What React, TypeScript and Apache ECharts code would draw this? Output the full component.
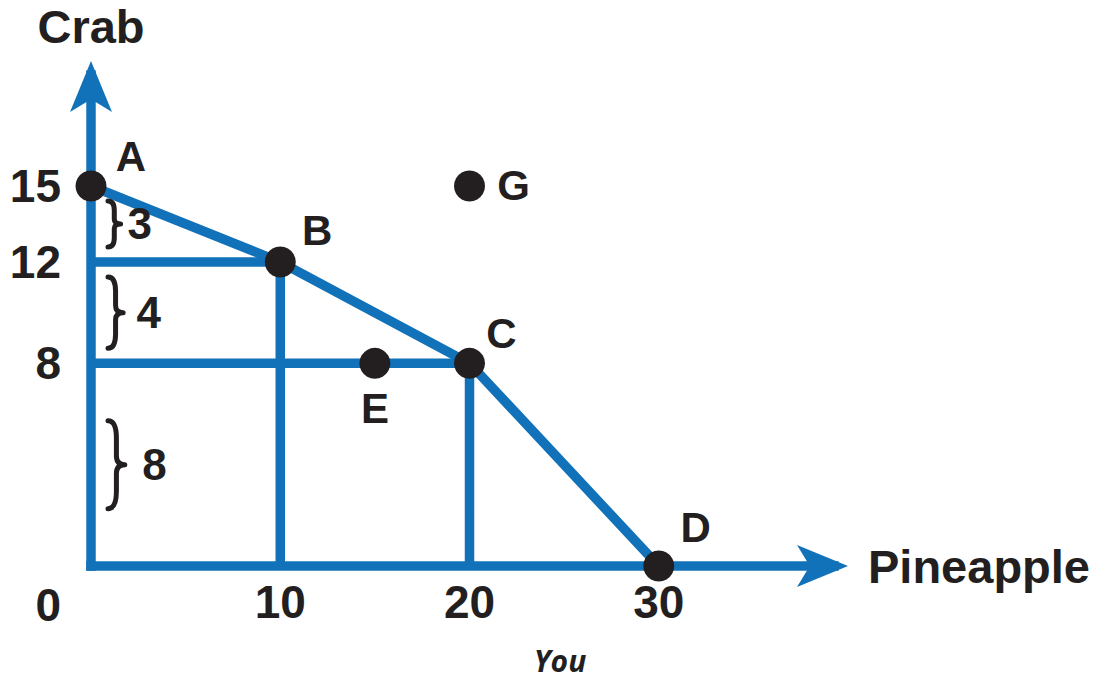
import React, { useEffect, useRef } from "react";
import * as echarts from "echarts";

const ppfX = [0, 10, 20, 30];
const ppfY = [15, 12, 8, 0];
const guideBX = [0, 10, 10];
const guideBY = [12, 12, 0];
const guideCX = [0, 20, 20];
const guideCY = [8, 8, 0];
const pointNames = ["A", "B", "C", "D", "E", "G"];
const pointX = [0, 10, 20, 30, 15, 20];
const pointY = [15, 12, 8, 0, 8, 15];
const labelOffsets = [[40, -29], [37, -31], [32, -30], [37, -39], [0, 45], [44, 0]];
const xTickValues = [10, 20, 30];
const yTickValues = [8, 12, 15];
const braceTop = [15, 12, 8];
const braceBottom = [12, 8, 0];
const braceLabels = ["3", "4", "8"];
const xAxisName = "Pineapple";
const yAxisName = "Crab";
const originLabel = "0";
const subtitle = "You";

const BLUE = "#1272b9";
const TEXT = "#231f20";
const FONT = "'Liberation Sans', Arial, sans-serif";

export default function App() {
  const ref = useRef<HTMLDivElement>(null);
  useEffect(() => {
    if (!ref.current) return;
    const chart = echarts.init(ref.current, null, { renderer: "svg" });
    const axisLine = {
      show: true,
      onZero: false,
      symbol: ["none", "arrow"],
      symbolSize: [31.5, 51],
      symbolOffset: [0, 14],
      lineStyle: { color: BLUE, width: 9.5, cap: "square" },
    };
    const option: any = {
      animation: false,
      backgroundColor: "#ffffff",
      grid: { left: 91, right: 265, top: 75, bottom: 115, outerBoundsMode: "none", containLabel: false },
      xAxis: {
        type: "value",
        min: 0,
        max: 39.26,
        splitLine: { show: false },
        axisTick: { show: false },
        axisLine,
        axisLabel: {
          customValues: xTickValues,
          formatter: (v: number) => String(v),
          fontSize: 46,
          fontWeight: "bold",
          color: TEXT,
          fontFamily: FONT,
          margin: 13,
          verticalAlign: "top",
        },
        name: xAxisName,
        nameLocation: "end",
        nameGap: 34,
        nameTextStyle: { fontSize: 47, fontWeight: "bold", color: TEXT, fontFamily: FONT, align: "left", verticalAlign: "middle" },
      },
      yAxis: {
        type: "value",
        min: 0,
        max: 19.38,
        splitLine: { show: false },
        axisTick: { show: false },
        axisLine,
        axisLabel: {
          customValues: yTickValues,
          formatter: (v: number) => String(v),
          fontSize: 46,
          fontWeight: "bold",
          color: TEXT,
          fontFamily: FONT,
          margin: 30,
        },
        name: yAxisName,
        nameLocation: "end",
        nameGap: 49,
        nameTextStyle: { fontSize: 47, fontWeight: "bold", color: TEXT, fontFamily: FONT, align: "center", verticalAlign: "middle" },
      },
      graphic: [
        { type: "text", x: 61, y: 605, style: { text: originLabel, align: "right", verticalAlign: "middle", fontSize: 46, fontWeight: "bold", fill: TEXT, fontFamily: FONT } },
        { type: "text", x: 560, y: 660, style: { text: subtitle, align: "center", verticalAlign: "middle", fontSize: 30, lineHeight: 30, fontWeight: "bold", fontStyle: "italic", fill: TEXT, fontFamily: "'Open Sans', 'Liberation Sans', sans-serif" } },
      ],
      series: [
        {
          type: "line",
          data: guideBX.map((x, i) => [x, guideBY[i]]),
          symbol: "none",
          lineStyle: { color: BLUE, width: 9.5, join: "miter" },
          z: 2,
        },
        {
          type: "line",
          data: guideCX.map((x, i) => [x, guideCY[i]]),
          symbol: "none",
          lineStyle: { color: BLUE, width: 9.5, join: "miter" },
          z: 2,
        },
        {
          type: "line",
          data: ppfX.map((x, i) => [x, ppfY[i]]),
          symbol: "none",
          lineStyle: { color: BLUE, width: 9.5, join: "miter" },
          z: 3,
        },
        {
          type: "custom",
          clip: false,
          z: 4,
          data: braceTop.map((t, i) => [t, braceBottom[i]]),
          renderItem: (params: any, api: any) => {
            const i = params.dataIndex;
            const top = api.coord([0, api.value(0)]);
            const bot = api.coord([0, api.value(1)]);
            const len = bot[1] - top[1];
            const h = Math.min(len - 30, 88);
            const y0 = top[1] + (len - h) / 2;
            const x0 = top[0] + 17;
            const w = 8 + h * 0.1;
            const gap = 7 + (h - 46) * 0.25;
            const d = `M0 0 Q${w / 2} 0 ${w / 2} ${h * 0.2} L${w / 2} ${h * 0.4} Q${w / 2} ${h / 2} ${w} ${h / 2} Q${w / 2} ${h / 2} ${w / 2} ${h * 0.6} L${w / 2} ${h * 0.8} Q${w / 2} ${h} 0 ${h}`;
            return {
              type: "group",
              children: [
                {
                  type: "path",
                  shape: { pathData: d, x: x0, y: y0, width: w, height: h, layout: "cover" },
                  style: { fill: "none", stroke: TEXT, lineWidth: 5, lineCap: "round", lineJoin: "round" },
                },
                {
                  type: "text",
                  x: x0 + w + gap,
                  y: y0 + h / 2,
                  style: { text: braceLabels[i], fontSize: 44, fontWeight: "bold", fill: TEXT, fontFamily: FONT, align: "left", verticalAlign: "middle" },
                },
              ],
            };
          },
        },
        {
          type: "scatter",
          z: 5,
          symbolSize: 31,
          itemStyle: { color: TEXT, opacity: 1 },
          data: pointNames.map((n, i) => ({
            name: n,
            value: [pointX[i], pointY[i]],
            label: { offset: labelOffsets[i] },
          })),
          label: {
            show: true,
            position: "inside",
            formatter: (p: any) => p.name,
            fontSize: 42,
            fontWeight: "bold",
            color: TEXT,
            fontFamily: FONT,
          },
        },
      ],
    };
    chart.setOption(option);
    return () => chart.dispose();
  }, []);
  return <div ref={ref} style={{ position: "absolute", left: 0, top: 0, width: 1099, height: 681 }} />;
}
